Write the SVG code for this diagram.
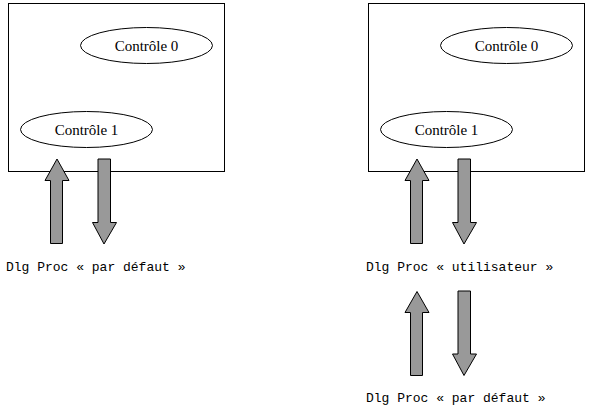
<svg xmlns="http://www.w3.org/2000/svg" width="592" height="407" viewBox="0 0 592 407">
<style>
.box{fill:#fff;stroke:#000;stroke-width:1}
.ell{fill:#fff;stroke:#000;stroke-width:1}
.lbl{font-family:"Liberation Serif",serif;font-size:15px;text-anchor:middle;fill:#000}
.mono{font-family:"Liberation Mono",monospace;font-size:13px;fill:#000}
.arr{fill:#999;stroke:#000;stroke-width:1}
</style>
<rect width="592" height="407" fill="#fff"/>
<g id="boxL"><rect class="box" x="8.5" y="3.5" width="216" height="168"/></g>
<g id="c0L"><ellipse class="ell" cx="146.5" cy="45.5" rx="66" ry="18"/><text class="lbl" x="146.5" y="50.5">Contrôle 0</text></g>
<g id="c1L"><ellipse class="ell" cx="86.5" cy="129.5" rx="66" ry="18"/><text class="lbl" x="86.5" y="134.5">Contrôle 1</text></g>
<g id="boxR"><rect class="box" x="368.5" y="3.5" width="216" height="168"/></g>
<g id="c0R"><ellipse class="ell" cx="506.5" cy="45.5" rx="66" ry="18"/><text class="lbl" x="506.5" y="50.5">Contrôle 0</text></g>
<g id="c1R"><ellipse class="ell" cx="446.5" cy="129.5" rx="66" ry="18"/><text class="lbl" x="446.5" y="134.5">Contrôle 1</text></g>
<g id="connectors">
<polygon class="arr" points="57,159 69,180.5 62.5,180.5 62.5,243.5 50.5,243.5 50.5,180.5 45,180.5"/>
<polygon class="arr" points="98,159 110.5,159 110.5,222.5 116.5,222.5 104,244 92.5,222.5 98,222.5"/>
<polygon class="arr" points="417,159 429,180.5 422.5,180.5 422.5,243.5 410.5,243.5 410.5,180.5 405,180.5"/>
<polygon class="arr" points="458,159 470.5,159 470.5,222.5 476.5,222.5 464,244 452.5,222.5 458,222.5"/>
<polygon class="arr" points="417,291.5 429,312.5 422.5,312.5 422.5,375.5 410.5,375.5 410.5,312.5 405,312.5"/>
<polygon class="arr" points="458,291 470.5,291 470.5,354 476.5,354 464,375.5 452.5,354 458,354"/>
</g>
<g id="procL"><text class="mono" x="6" y="271">Dlg Proc « par défaut »</text></g>
<g id="procU"><text class="mono" x="366" y="271">Dlg Proc « utilisateur »</text></g>
<g id="procD"><text class="mono" x="366" y="402">Dlg Proc « par défaut »</text></g>
</svg>
